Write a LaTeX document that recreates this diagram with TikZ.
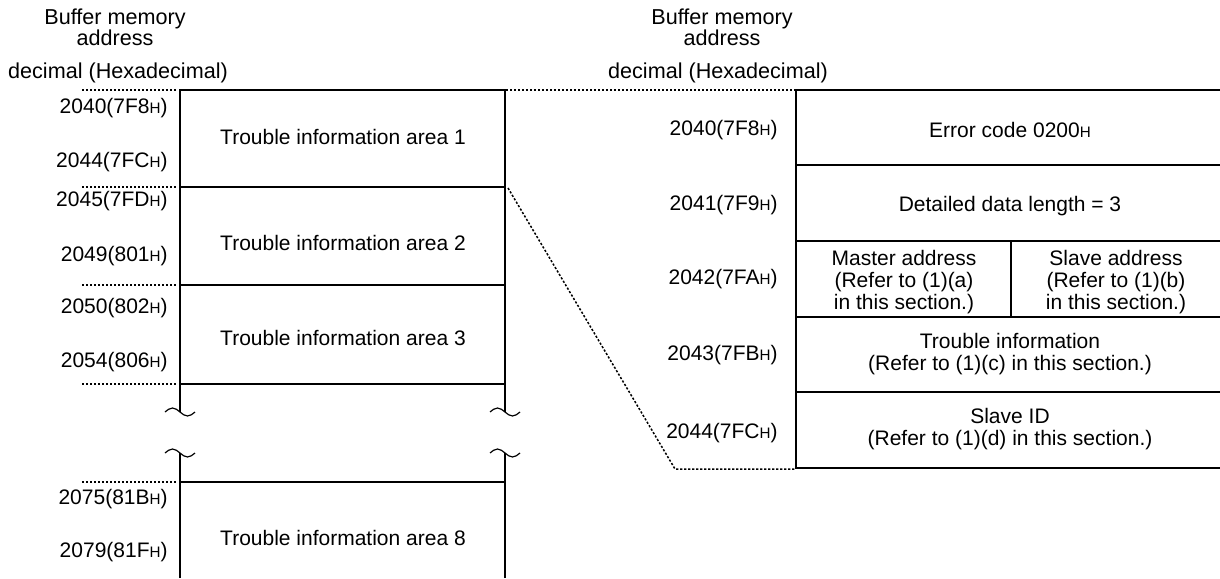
\documentclass[tikz,border=0pt]{standalone}
\usepackage{fontspec}
\setmainfont{Liberation Sans}
\usetikzlibrary{positioning}
\newcommand{\hexH}{{\fontsize{7.6}{9}\selectfont H}}

\begin{document}
\begin{tikzpicture}[x=0.5pt, y=-0.5pt,
  frame/.style={black, line width=0.6pt},
  guide/.style={black, line width=0.75pt, dash pattern=on 1.1pt off 0.9pt},
  addrlbl/.style={anchor=east, inner sep=0pt, font=\fontsize{10.5}{12}\selectfont},
  arealbl/.style={align=center, inner sep=0pt, font=\fontsize{10.5}{10.8}\selectfont},
  headlbl/.style={align=center, inner sep=0pt, font=\fontsize{10.8}{10.4}\selectfont},
  brk/.style={black, line width=0.6pt},
]
\useasboundingbox (0,0) rectangle (1220,578);

% Column headings
\node[headlbl] (lhead) at (115,27) {Buffer memory\\address};
\node[headlbl] (lbase) at (118,73) {decimal (Hexadecimal)};
\node[headlbl] (rhead) at (722,27) {Buffer memory\\address};
\node[headlbl] (rbase) at (718,73) {decimal (Hexadecimal)};

% Left area: frame with break marks
\draw[frame] (180,412) -- (180,90) -- (505,90) -- (505,412);
\draw[frame] (180,578) -- (180,453);
\draw[frame] (505,578) -- (505,453);
\draw[frame] (180,187) -- (505,187);
\draw[frame] (180,285) -- (505,285);
\draw[frame] (180,384) -- (505,384);
\draw[frame] (180,482) -- (505,482);
\draw[brk] (165,412) sin (172.5,408) cos (180,412) sin (187.5,416) cos (195,412);
\draw[brk] (165,453) sin (172.5,449) cos (180,453) sin (187.5,457) cos (195,453);
\draw[brk] (490,412) sin (497.5,408) cos (505,412) sin (512.5,416) cos (520,412);
\draw[brk] (490,453) sin (497.5,449) cos (505,453) sin (512.5,457) cos (520,453);

% Dotted boundary guides
\draw[guide] (82,90) -- (176,90);
\draw[guide] (82,187) -- (176,187);
\draw[guide] (82,285) -- (176,285);
\draw[guide] (82,384) -- (176,384);
\draw[guide] (82,482) -- (176,482);
\draw[guide] (462,90) -- (796,90);

% Left area names and addresses
\node[arealbl] (area1) at (343,137) {Trouble information area 1};
\node[arealbl] (area2) at (343,243) {Trouble information area 2};
\node[arealbl] (area3) at (343,338) {Trouble information area 3};
\node[arealbl] (area8) at (343,538) {Trouble information area 8};
\node[addrlbl] (a2040) at (168,108) {2040(7F8\hexH)};
\node[addrlbl] (a2044) at (168,162) {2044(7FC\hexH)};
\node[addrlbl] (a2045) at (168,201) {2045(7FD\hexH)};
\node[addrlbl] (a2049) at (168,256) {2049(801\hexH)};
\node[addrlbl] (a2050) at (168,308) {2050(802\hexH)};
\node[addrlbl] (a2054) at (168,362) {2054(806\hexH)};
\node[addrlbl] (a2075) at (168,499) {2075(81B\hexH)};
\node[addrlbl] (a2079) at (168,552) {2079(81F\hexH)};

% Right area: detail of area 1
\draw[frame] (1220,90) -- (796,90) -- (796,468) -- (1220,468);
\draw[frame] (796,165) -- (1220,165);
\draw[frame] (796,241) -- (1220,241);
\draw[frame] (796,317) -- (1220,317);
\draw[frame] (796,392) -- (1220,392);
\draw[frame] (1011,241) -- (1011,317);

\node[arealbl] (errcode) at (1010,130) {Error code 0200\hexH};
\node[arealbl] (datalen) at (1010,206) {Detailed data length = 3};
\node[arealbl] (master) at (904,282) {Master address\\(Refer to (1)(a)\\in this section.)};
\node[arealbl] (slave) at (1116,282) {Slave address\\(Refer to (1)(b)\\in this section.)};
\node[arealbl] (trouble) at (1010,354) {Trouble information\\(Refer to (1)(c) in this section.)};
\node[arealbl] (slaveid) at (1010,429) {Slave ID\\(Refer to (1)(d) in this section.)};

\node[addrlbl] (b2040) at (778,130) {2040(7F8\hexH)};
\node[addrlbl] (b2041) at (778,205) {2041(7F9\hexH)};
\node[addrlbl] (b2042) at (778,279) {2042(7FA\hexH)};
\node[addrlbl] (b2043) at (778,355) {2043(7FB\hexH)};
\node[addrlbl] (b2044) at (778,433) {2044(7FC\hexH)};

% Zoom guide from area 1 to its detail
\coordinate (area1se) at (508,188);
\coordinate (bend) at (675,469);
\coordinate (detailsw) at (796,469);
\draw[guide] (area1se) -- (bend) -- (detailsw);

\end{tikzpicture}
\end{document}
